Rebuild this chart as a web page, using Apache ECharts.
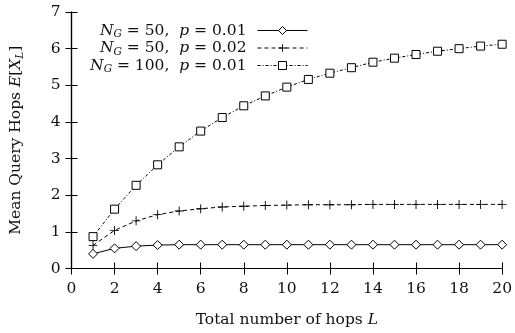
<!DOCTYPE html>
<html><head><meta charset="utf-8">
<script src="https://cdn.jsdelivr.net/npm/echarts@6/dist/echarts.min.js"></script>
<style>html,body{margin:0;padding:0;background:#fff}#c{width:515px;height:333px}</style>
</head><body><div id="c"></div>
<script>
const hops = [1,2,3,4,5,6,7,8,9,10,11,12,13,14,15,16,17,18,19,20];
const seriesNames = ['s1','s2','s3'];
const g50p01 = [0.40,0.55,0.61,0.64,0.65,0.65,0.65,0.65,0.65,0.65,0.65,0.65,0.65,0.65,0.65,0.65,0.65,0.65,0.65,0.65];
const g50p02 = [0.63,1.04,1.30,1.47,1.57,1.63,1.68,1.70,1.72,1.73,1.74,1.74,1.74,1.75,1.75,1.75,1.75,1.75,1.75,1.75];
const g100p01 = [0.87,1.62,2.27,2.83,3.32,3.75,4.12,4.44,4.71,4.95,5.16,5.33,5.48,5.63,5.74,5.84,5.93,6.00,6.07,6.12];
const legendLabels = {
  s1: '{i|N}{s|G}{n| = 50,  }{i|p}{n| = 0.01}{g|}',
  s2: '{i|N}{s|G}{n| = 50,  }{i|p}{n| = 0.02}{g|}',
  s3: '{i|N}{s|G}{n| = 100,  }{i|p}{n| = 0.01}{g|}'
};
const xTicks = [0,2,4,6,8,10,12,14,16,18,20];

const FONT = 'DejaVu Serif';
const FS = 15.5;
const INK = '#111';
const rich = {
  n: {fontFamily: FONT, fontSize: FS, color: INK, lineHeight: 19},
  i: {fontFamily: FONT, fontSize: FS, fontStyle: 'italic', color: INK, lineHeight: 19},
  s: {fontFamily: FONT, fontSize: 10.5, fontStyle: 'italic', color: INK, lineHeight: 13, verticalAlign: 'bottom'},
  g: {width: 6, lineHeight: 19}
};
const pair = a => a.map((v, k) => [hops[k], v]);
const chart = echarts.init(document.getElementById('c'), null, {renderer: 'canvas'});
const axisLine = {show: true, lineStyle: {color: '#000', width: 1.2}};
const tick = {show: true, inside: true, length: 6, lineStyle: {color: '#000', width: 1}};
chart.setOption({
  animation: false,
  backgroundColor: '#fff',
  grid: {left: 71, right: 7.5, top: 12, bottom: 60.5},
  legend: {
    orient: 'vertical', right: 207, top: 22.5, align: 'right',
    itemWidth: 50, itemHeight: 10, itemGap: 0, padding: 0,
    data: seriesNames,
    lineStyle: {width: 1},
    itemStyle: {borderWidth: 1},
    formatter: name => legendLabels[name],
    textStyle: {rich: rich, fontFamily: FONT, fontSize: FS}
  },
  xAxis: [{
    type: 'value', min: 0, max: 20, interval: 2, position: 'bottom',
    axisLine: axisLine, axisTick: tick, splitLine: {show: false},
    axisLabel: {fontFamily: FONT, fontSize: FS, color: INK, margin: 12,
      formatter: v => xTicks.includes(v) ? String(v) : ''},
    name: '{n|Total number of hops }{i|L}', nameLocation: 'middle', nameGap: 42,
    nameTextStyle: {rich: rich}
  }, {
    type: 'value', min: 0, max: 20, interval: 2, position: 'top',
    axisLine: axisLine, axisTick: tick, splitLine: {show: false}, axisLabel: {show: false}
  }],
  yAxis: [{
    type: 'value', min: 0, max: 7, interval: 1, position: 'left',
    axisLine: axisLine, axisTick: tick, splitLine: {show: false},
    axisLabel: {fontFamily: FONT, fontSize: FS, color: INK, margin: 11},
    name: '{n|Mean Query Hops }{i|E}{n|[}{i|X}{s|L}{n|]}', nameLocation: 'middle', nameGap: 46,
    nameTextStyle: {rich: rich}
  }, {
    type: 'value', min: 0, max: 7, interval: 1, position: 'right',
    axisLine: axisLine, axisTick: tick, splitLine: {show: false}, axisLabel: {show: false}
  }],
  series: [{
    name: 's1', type: 'line', data: pair(g50p01), clip: false,
    symbol: 'diamond', symbolSize: [9, 9],
    lineStyle: {color: '#000', width: 1, type: 'solid'},
    itemStyle: {color: '#fff', borderColor: '#000', borderWidth: 1}
  }, {
    name: 's2', type: 'line', data: pair(g50p02), clip: false,
    symbol: 'path://M0,4.5H10V5.5H0Z M4.5,0H5.5V10H4.5Z', symbolSize: 9,
    lineStyle: {color: '#000', width: 1, type: [4, 3]},
    itemStyle: {color: '#000', borderWidth: 0}
  }, {
    name: 's3', type: 'line', data: pair(g100p01), clip: false,
    symbol: 'rect', symbolSize: 8,
    lineStyle: {color: '#000', width: 1, type: [3, 2, 1, 2]},
    itemStyle: {color: '#fff', borderColor: '#000', borderWidth: 1}
  }]
});
</script>
</body></html>
